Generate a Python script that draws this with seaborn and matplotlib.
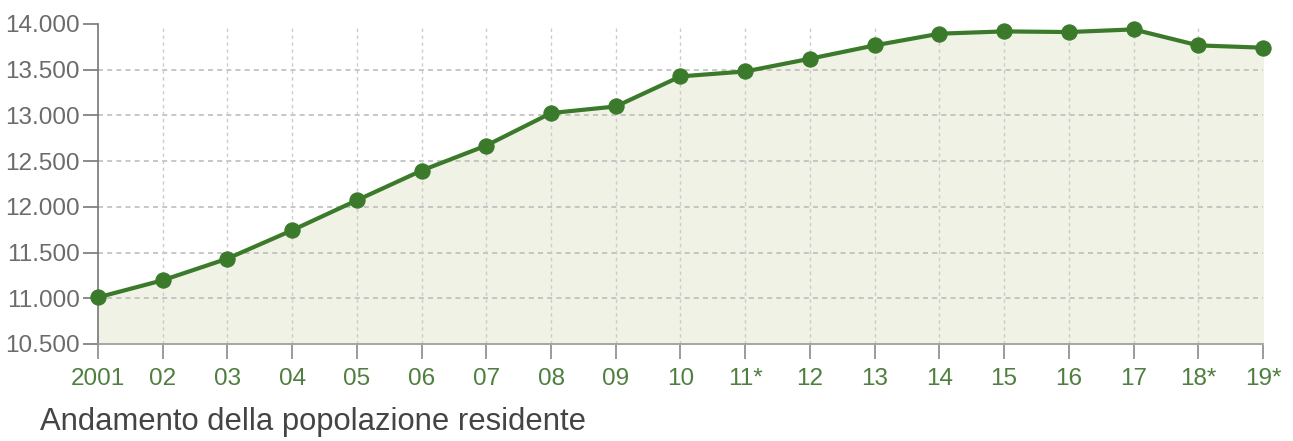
import numpy as np
import pandas as pd
import matplotlib
matplotlib.use("Agg")
import matplotlib.pyplot as plt
import seaborn as sns

# dati
anni = ["2001", "02", "03", "04", "05", "06", "07", "08", "09", "10",
        "11*", "12", "13", "14", "15", "16", "17", "18*", "19*"]
popolazione = [11010, 11197, 11434, 11744, 12072, 12397, 12671, 13026, 13098, 13427,
               13481, 13620, 13766, 13894, 13919, 13912, 13941, 13766, 13741]
y_ticks = [10500, 11000, 11500, 12000, 12500, 13000, 13500, 14000]

verde = "#3b7a2b"
riempimento = "#f0f2e5"

sns.set_style("white")
plt.rcParams["font.family"] = ["Liberation Sans", "DejaVu Sans"]

df = pd.DataFrame({"pos": np.arange(len(anni)), "pop": popolazione})

fig = plt.figure(figsize=(12.93, 4.41), dpi=100)
ax = fig.add_axes([98 / 1293, 1 - 344 / 441, (1263 - 98) / 1293, (344 - 24) / 441])

# area sotto la curva
ax.fill_between(df["pos"], df["pop"], y_ticks[0], color=riempimento, zorder=1)

# griglia tratteggiata
for v in y_ticks[1:-1]:
    ax.axhline(v, color="#bdbdbd", lw=1.2, ls=(0, (3, 2.5)), zorder=2)
for p in df["pos"][1:-1]:
    ax.plot([p, p], [y_ticks[0], 13960], color="#cccccc", lw=1, ls=(0, (2.5, 2.5)), zorder=2)

sns.lineplot(data=df, x="pos", y="pop", ax=ax, color=verde, lw=3,
             marker="o", markersize=11, markeredgecolor=verde, zorder=4, clip_on=False)

ax.set_xlim(0, len(anni) - 1)
ax.set_ylim(y_ticks[0], y_ticks[-1])
ax.set_xticks(df["pos"])
ax.set_xticklabels(anni)
ax.set_yticks(y_ticks)
ax.set_yticklabels([f"{v:,}".replace(",", ".") for v in y_ticks])
ax.set_xlabel("")
ax.set_ylabel("")

ax.tick_params(axis="x", bottom=True, colors="#8a8a8a", length=11, width=1.2, labelsize=17.5,
               labelcolor="#4e7f3e", pad=6, direction="out")
ax.tick_params(axis="y", left=True, colors="#777777", length=11, width=1.2, labelsize=17.5,
               labelcolor="#6b6b6b", pad=2, direction="out")
for s in ["top", "right"]:
    ax.spines[s].set_visible(False)
ax.spines["left"].set_color("#777777")
ax.spines["left"].set_linewidth(1.2)
ax.spines["bottom"].set_color("#999999")
ax.spines["bottom"].set_linewidth(1.2)

fig.text(40 / 1293, 1 - 422 / 441, "Andamento della popolazione residente",
         fontsize=22.3, color="#444444", va="center", ha="left")

fig.savefig("out.png", dpi=100, facecolor="white")
